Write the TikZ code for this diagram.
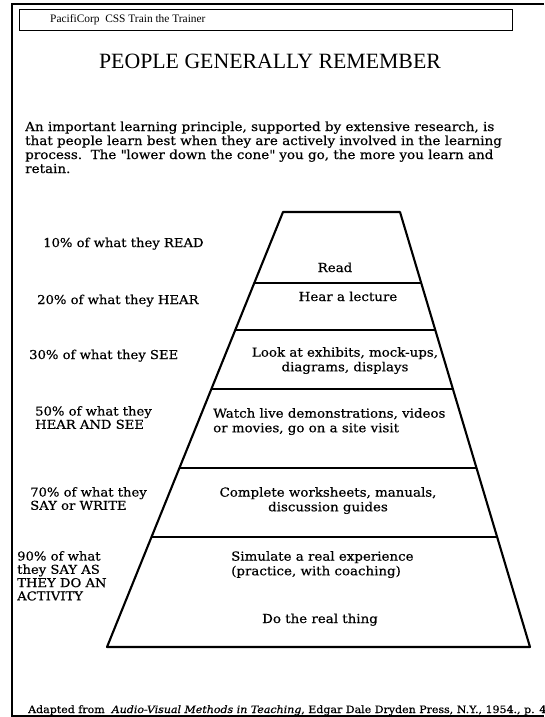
\documentclass[tikz,border=0pt]{standalone}
\usepackage{fontspec}
\setmainfont{DejaVu Serif}[FakeStretch=1.08, FakeBold=0.5]
\newfontfamily\headfont{Liberation Serif}
\usetikzlibrary{calc}
\begin{document}
\begin{tikzpicture}[x=1pt,y=-1pt,
  edge/.style={line width=2.1pt, line cap=round, line join=round},
  rung/.style={line width=1.9pt},
  frame/.style={line width=1.6pt},
  lbl/.style={inner sep=0pt, font=\fontsize{12.2}{13.3}\selectfont, align=left},
  tier/.style={inner sep=0pt, font=\fontsize{12.4}{14.6}\selectfont},
  body/.style={anchor=base west, inner sep=0pt, font=\fontsize{12.5}{14}\selectfont}]
\useasboundingbox (0,0) rectangle (544,717);
\fill[white] (0,0) rectangle (544,717);

% page frame
\coordinate (pgBL) at (12,717);
\coordinate (pgTL) at (12,4);
\coordinate (pgTR) at (544,4);
\coordinate (ftL) at (12,716);
\coordinate (ftR) at (544,716);
\draw[frame] (pgBL) -- (pgTL) -- (pgTR);
\draw[line width=1.2pt] (ftL) -- (ftR);

% running header
\node[draw, line width=1.2pt, minimum width=493pt, minimum height=21pt,
      anchor=north west, inner sep=0pt] (head) at (19,9) {};
\node[anchor=base west, inner sep=0pt, font=\headfont\fontsize{11.4}{13}\selectfont]
      (headtxt) at (50,23) {PacifiCorp\ \ CSS Train the Trainer};

% title
\node[anchor=base, inner sep=0pt, font=\headfont\fontsize{21.8}{24}\selectfont]
      (title) at (270,68) {PEOPLE GENERALLY REMEMBER};

% introduction
\node[body] (p1) at (25,131) {An important learning principle, supported by extensive research, is};
\node[body] (p2) at (25,145) {that people learn best when they are actively involved in the learning};
\node[body] (p3) at (25,159) {process.\ \ The \textquotedbl lower down the cone\textquotedbl\ you go, the more you learn and};
\node[body] (p4) at (25,173) {retain.};

% the cone
\coordinate (tl) at (283,212);
\coordinate (tr) at (400,212);
\coordinate (bl) at (107,647);
\coordinate (br) at (530,647);
\draw[edge] (bl) -- (tl) -- (tr) -- (br) -- cycle;
\foreach \t [count=\i] in {0.1632,0.2713,0.4069,0.5885,0.7471} {
  \coordinate (cl\i) at ($(tl)!\t!(bl)$);
  \coordinate (cr\i) at ($(tr)!\t!(br)$);
  \draw[rung] (cl\i) -- (cr\i);
}

% tier contents
\node[tier, anchor=base] (t1) at (335,272) {Read};
\node[tier, anchor=base] (t2) at (348,301) {Hear a lecture};
\node[tier, anchor=north, align=center] (t3) at (345,347) {Look at exhibits, mock-ups,\\diagrams, displays};
\node[tier, anchor=north west, align=left] (t4) at (213,408) {Watch live demonstrations, videos\\or movies, go on a site visit};
\node[tier, anchor=north, align=center] (t5) at (328,487) {Complete worksheets, manuals,\\discussion guides};
\node[tier, anchor=north west, align=left] (t6) at (231,551) {Simulate a real experience\\(practice, with coaching)};
\node[tier, anchor=base] (t7) at (320,623) {Do the real thing};

% retention figures
\node[lbl, anchor=base west] (l1) at (43,247) {10\% of what they READ};
\node[lbl, anchor=base west] (l2) at (37,304) {20\% of what they HEAR};
\node[lbl, anchor=base west] (l3) at (29,359) {30\% of what they SEE};
\node[lbl, anchor=north west] (l4) at (35,406) {50\% of what they\\HEAR AND SEE};
\node[lbl, anchor=north west] (l5) at (30,487) {70\% of what they\\SAY or WRITE};
\node[lbl, anchor=north west] (l6) at (17,551) {90\% of what\\they SAY AS\\THEY DO AN\\ACTIVITY};

% source
\node[anchor=base west, inner sep=0pt, font=\fontsize{10.2}{12}\selectfont] (src) at (28,713)
  {Adapted from\ \ \textit{Audio-Visual Methods in Teaching}, Edgar Dale Dryden Press, N.Y., 1954., p. 43};
\end{tikzpicture}
\end{document}
